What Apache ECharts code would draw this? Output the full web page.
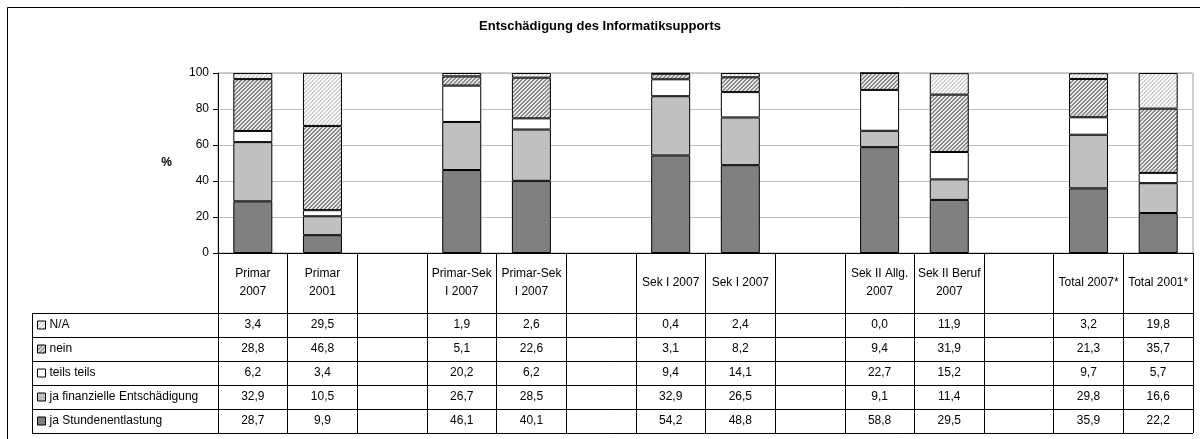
<!DOCTYPE html>
<html>
<head>
<meta charset="utf-8">
<script src="https://cdn.jsdelivr.net/npm/echarts@6/dist/echarts.min.js"></script>
<style>
  html, body { margin: 0; padding: 0; background: #fff; }
  #chart { width: 1200px; height: 439px; }
</style>
</head>
<body>
<div id="chart"></div>
<script>
// Categories (empty strings are spacer columns between school levels)
const categories = ['Primar\n2007', 'Primar\n2001', '', 'Primar-Sek\nI 2007', 'Primar-Sek\nI 2007', '',
  'Sek I 2007', 'Sek I 2007', '', 'Sek II Allg.\n2007', 'Sek II Beruf\n2007', '', 'Total 2007*', 'Total 2001*'];

// Shares in percent per answer
const naValues      = [3.4, 29.5, null, 1.9, 2.6, null, 0.4, 2.4, null, 0.0, 11.9, null, 3.2, 19.8];
const neinValues    = [28.8, 46.8, null, 5.1, 22.6, null, 3.1, 8.2, null, 9.4, 31.9, null, 21.3, 35.7];
const teilsValues   = [6.2, 3.4, null, 20.2, 6.2, null, 9.4, 14.1, null, 22.7, 15.2, null, 9.7, 5.7];
const finanzValues  = [32.9, 10.5, null, 26.7, 28.5, null, 32.9, 26.5, null, 9.1, 11.4, null, 29.8, 16.6];
const stundenValues = [28.7, 9.9, null, 46.1, 40.1, null, 54.2, 48.8, null, 58.8, 29.5, null, 35.9, 22.2];

const seriesNames = ['N/A', 'nein', 'teils teils', 'ja finanzielle Entschädigung', 'ja Stundenentlastung'];
const yMin = 0, yMax = 100, yStep = 20;

const FONT = 'Liberation Sans, Arial, sans-serif';
const FS = 12;

// Diagonal hatch fill ("////")
function hatch(fg, bg) {
  const n = 4;
  const c = document.createElement('canvas');
  c.width = n; c.height = n;
  const ctx = c.getContext('2d');
  ctx.fillStyle = bg; ctx.fillRect(0, 0, n, n);
  ctx.fillStyle = fg;
  for (let y = 0; y < n; y++) {
    for (let x = 0; x < n; x++) {
      const k = (x + y) % n;
      if (k === 0 || k === 1) ctx.fillRect(x, y, 1, 1);
    }
  }
  return { image: c, repeat: 'repeat' };
}

const fills = {
  'N/A': hatch('#cfcfcf', '#ffffff'),
  'nein': hatch('#8c8c8c', '#e6e6e6'),
  'teils teils': '#ffffff',
  'ja finanzielle Entschädigung': '#c0c0c0',
  'ja Stundenentlastung': '#808080'
};

const fmt = v => (v === null || v === undefined) ? '' : v.toFixed(1).replace('.', ',');

// Layout of the data table below the plot
const axisY = 253;
const headerH = 60;
const rowH = 24;
const tableLeft = 32;
const tableRight = 1193;

const tableRows = [naValues, neinValues, teilsValues, finanzValues, stundenValues];

const chart = echarts.init(document.getElementById('chart'), null, { renderer: 'canvas' });

const tableAxes = tableRows.map((vals, i) => ({
  type: 'category',
  gridIndex: 0,
  position: 'bottom',
  offset: headerH + rowH * i,
  data: vals.map(fmt),
  axisLine: { show: false },
  axisTick: { show: false },
  splitLine: { show: false },
  axisLabel: {
    interval: 0, margin: rowH / 2, verticalAlign: 'middle',
    fontSize: FS, color: '#000', fontFamily: FONT, hideOverlap: false
  }
}));

const hLines = [];
for (let i = 0; i <= tableRows.length; i++) {
  const y = axisY + headerH + rowH * i + 0.5;
  hLines.push({
    type: 'line', silent: true,
    shape: { x1: tableLeft, y1: y, x2: tableRight, y2: y },
    style: { stroke: '#000', lineWidth: 1 }
  });
}

const stackOrder = [
  ['ja Stundenentlastung', stundenValues],
  ['ja finanzielle Entschädigung', finanzValues],
  ['teils teils', teilsValues],
  ['nein', neinValues],
  ['N/A', naValues]
];

chart.setOption({
  animation: false,
  backgroundColor: '#fff',
  textStyle: { fontFamily: FONT },
  title: {
    text: 'Entschädigung des Informatiksupports',
    left: 'center', top: 20, padding: 0,
    textStyle: { fontSize: 13, fontWeight: 'bold', color: '#000', fontFamily: FONT }
  },
  legend: {
    orient: 'vertical',
    left: 37, top: axisY + headerH, padding: 0,
    itemGap: 0, itemWidth: 8, itemHeight: 8,
    icon: 'rect',
    selectedMode: false,
    data: seriesNames,
    itemStyle: { borderColor: '#000', borderWidth: 1 },
    textStyle: { fontSize: FS, color: '#000', lineHeight: rowH, padding: [0, 0, 0, -1], fontFamily: FONT }
  },
  grid: {
    left: 218, right: 1200 - tableRight, top: 73, bottom: 439 - axisY,
    show: true, borderColor: '#a0a0a0', borderWidth: 1, backgroundColor: 'transparent'
  },
  xAxis: [{
    type: 'category',
    data: categories,
    axisLine: { lineStyle: { color: '#000', width: 1 } },
    axisTick: { show: true, interval: 0, length: headerH + rowH * tableRows.length, lineStyle: { color: '#000', width: 1 } },
    axisLabel: {
      interval: 0, margin: headerH / 2, verticalAlign: 'middle', lineHeight: 18,
      fontSize: FS, color: '#000', fontFamily: FONT, hideOverlap: false
    },
    splitLine: { show: false }
  }].concat(tableAxes),
  yAxis: {
    type: 'value', min: yMin, max: yMax, interval: yStep,
    name: '%', nameLocation: 'middle', nameGap: 46, nameRotate: 0,
    nameTextStyle: { fontSize: FS, fontWeight: 'bold', color: '#000', fontFamily: FONT },
    axisLine: { show: true, lineStyle: { color: '#000', width: 1 } },
    axisTick: { show: true, length: 5, lineStyle: { color: '#000' } },
    axisLabel: { fontSize: FS, color: '#000', margin: 9, fontFamily: FONT },
    splitLine: { show: true, lineStyle: { color: '#c0c0c0', width: 1 } }
  },
  series: stackOrder.map(([name, vals]) => ({
    name: name,
    type: 'bar',
    stack: 'total',
    barWidth: 39,
    data: vals,
    itemStyle: { color: fills[name], borderColor: '#000', borderWidth: 1 },
    emphasis: { disabled: true }
  })),
  graphic: hLines.concat([
    {
      type: 'line', silent: true,
      shape: { x1: tableLeft + 0.5, y1: axisY + headerH, x2: tableLeft + 0.5, y2: axisY + headerH + rowH * tableRows.length },
      style: { stroke: '#000', lineWidth: 1 }
    },
    {
      type: 'rect', silent: true,
      shape: { x: 7.5, y: 7.5, width: 1220, height: 480 },
      style: { fill: 'none', stroke: '#000', lineWidth: 1 }
    }
  ])
});
</script>
</body>
</html>
